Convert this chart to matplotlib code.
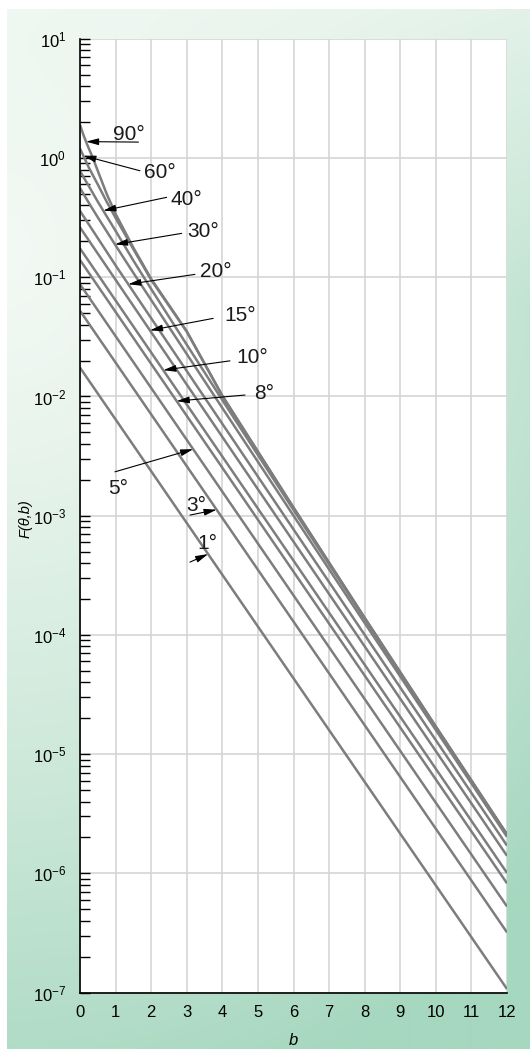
import numpy as np
import matplotlib
matplotlib.use("Agg")
import matplotlib.pyplot as plt
from matplotlib.colors import to_rgb
from matplotlib.ticker import LogLocator, NullFormatter, FixedLocator

plt.rcParams['font.family'] = ['Liberation Sans', 'DejaVu Sans']
plt.rcParams['mathtext.fontset'] = 'custom'
plt.rcParams['mathtext.rm'] = 'Liberation Sans'
plt.rcParams['mathtext.it'] = 'Liberation Sans:italic'

# ---------------- data ----------------
b_90 = [0, 0.1, 0.2, 0.35, 0.5, 0.75, 1, 1.5, 2, 3, 4, 6, 8, 10, 12]
F_90 = [1.9, 1.55, 1.3, 1.02, 0.78, 0.5, 0.34, 0.177, 0.097, 0.0352, 0.01015, 1.17e-3, 1.39e-4, 1.70e-5, 2.12e-6]

b_60 = [0, 0.25, 0.5, 0.75, 1, 1.5, 2, 3, 4, 6, 8, 10, 12]
F_60 = [1.2, 0.83, 0.6, 0.43, 0.315, 0.172, 0.095, 0.035, 0.0101, 1.17e-3, 1.39e-4, 1.70e-5, 2.12e-6]

b_40 = [0, 0.1, 0.25, 0.5, 1, 1.5, 2, 3, 4, 6, 8, 10, 12]
F_40 = [0.78, 0.69, 0.58, 0.43, 0.245, 0.138, 0.0797, 0.0272, 0.00933, 1.117e-3, 1.362e-4, 1.685e-5, 2.109e-6]

b_30 = [0, 0.25, 0.5, 1, 1.5, 2, 3, 4, 6, 8, 10, 12]
F_30 = [0.56, 0.42, 0.318, 0.185, 0.1088, 0.0645, 0.0227, 0.00801, 1.001e-3, 1.26e-4, 1.594e-5, 2.026e-6]

b_20 = [0, 1, 2, 4, 6, 8, 10, 12]
F_20 = [0.36, 0.1258, 0.0453, 0.0059, 7.68e-4, 1.002e-4, 1.309e-5, 1.711e-6]

b_15 = [0, 6, 12]
F_15 = [0.2618, 6.06e-4, 1.403e-6]

b_10 = [0, 6, 12]
F_10 = [0.1745, 4.20e-4, 1.009e-6]

b_8 = [0, 6, 12]
F_8 = [0.1396, 3.394e-4, 8.25e-7]

b_5 = [0, 6, 12]
F_5 = [0.08727, 2.147e-4, 5.28e-7]

b_3 = [0, 6, 12]
F_3 = [0.05236, 1.294e-4, 3.2e-7]

b_1 = [0, 6, 12]
F_1 = [0.01745, 4.326e-5, 1.072e-7]

curve_b = [b_90, b_60, b_40, b_30, b_20, b_15, b_10, b_8, b_5, b_3, b_1]
curve_F = [F_90, F_60, F_40, F_30, F_20, F_15, F_10, F_8, F_5, F_3, F_1]

# annotations: label, text (left, baseline), arrow tail, arrow head b
ann_labels = ['90°', '60°', '40°', '30°', '20°', '15°', '10°', '8°', '5°', '3°', '1°']
ann_text_b = [0.927, 1.798, 2.556, 3.0, 3.371, 4.053, 4.402, 4.888, 0.795, 2.997, 3.287]
ann_text_F = [1.416, 0.676, 0.403, 0.2188, 0.0998, 0.0432, 0.01919, 0.00946, 0.00152, 0.0011, 5.25e-4]
ann_tail_b = [1.643, 1.685, 2.435, 2.857, 3.230, 3.744, 4.213, 4.635, 0.983, 3.090, 3.090]
ann_tail_F = [1.36, 0.782, 0.468, 0.2333, 0.1057, 0.0452, 0.0199, 0.01028, 0.002334, 0.001012, 4.08e-4]
ann_head_b = [0.169, 0.093, 0.654, 0.983, 1.357, 1.966, 2.340, 2.716, 3.180, 3.84, 3.6]

x_ticks = list(range(0, 13))
y_exponents = list(range(-7, 2))

# ---------------- figure ----------------
W, H = 530, 1049
fig = plt.figure(figsize=(W / 100, H / 100), dpi=100)

# background gradient panel
bg = fig.add_axes([7 / W, 0, 1 - 7 / W, 1 - 9 / H])
bg.set_axis_off()
ny, nx = 520, 262
yy, xx = np.mgrid[0:ny, 0:nx]
px = 7 + xx * (W - 7) / nx
py = 9 + yy * (H - 9) / ny
r = np.hypot(px - 0, (py - 250) * 0.85)
t = np.clip(r / 760.0, 0, 1) ** 1.3
t = t * np.clip((py + 120) / 420.0, 0, 1)
c0 = np.array(to_rgb('#f3f9f4'))
c1 = np.array(to_rgb('#a6d7bf'))
img = c0[None, None, :] * (1 - t[..., None]) + c1[None, None, :] * t[..., None]
bg.imshow(img, aspect='auto', extent=[0, 1, 0, 1], origin='upper')
bg.set_xlim(0, 1)
bg.set_ylim(0, 1)

ax = fig.add_axes([80 / W, 56.4 / H, 427 / W, 953.8 / H])
ax.set_facecolor('white')
ax.set_yscale('log')
ax.set_xlim(0, 12)
ax.set_ylim(1e-7, 10)

for bb, FF in zip(curve_b, curve_F):
    ax.plot(bb, FF, color='#7d7d7d', lw=1.8, solid_capstyle='butt', zorder=3)

# grid
ax.set_xticks(x_ticks)
ax.set_xticklabels([str(v) for v in x_ticks])
ax.yaxis.set_major_locator(FixedLocator([10.0 ** e for e in y_exponents]))
ax.set_yticklabels(['10$^{%d}$' % e for e in y_exponents])
ax.yaxis.set_minor_locator(LogLocator(base=10, subs=np.arange(2, 10), numticks=20))
ax.yaxis.set_minor_formatter(NullFormatter())
ax.grid(True, which='major', color='#d5d5d5', lw=1.2, zorder=0)
ax.set_axisbelow(True)

for s in ['top', 'right']:
    ax.spines[s].set_visible(False)
for s in ['left', 'bottom']:
    ax.spines[s].set_color('black')
    ax.spines[s].set_linewidth(1.2)
    ax.spines[s].set_zorder(5)

ax.tick_params(axis='y', which='both', direction='in', length=7, width=1.0,
               color='black', labelsize=12, pad=10)
ax.tick_params(axis='x', which='both', length=0, labelsize=12, pad=9)

ax.set_xlabel('b', fontsize=12, style='italic', labelpad=9)
ax.set_ylabel('F(θ,b)', fontsize=10.5, style='italic')
ax.yaxis.set_label_coords(-0.112, 0.497)

# annotations
for lab, tb, tF, ab, aF, hb, bb, FF in zip(ann_labels, ann_text_b, ann_text_F,
                                            ann_tail_b, ann_tail_F, ann_head_b,
                                            curve_b, curve_F):
    hF = 10 ** np.interp(hb, bb, np.log10(FF))
    ax.annotate('', xy=(hb, hF), xytext=(ab, aF),
                arrowprops=dict(arrowstyle='-|>,head_length=0.75,head_width=0.2',
                                mutation_scale=10, lw=0.8, color='black',
                                shrinkA=0, shrinkB=0), zorder=6)
    ax.text(tb, tF, lab, fontsize=15, ha='left', va='baseline', color='#1a1a1a', zorder=6)

fig.savefig('out.png', dpi=100)
